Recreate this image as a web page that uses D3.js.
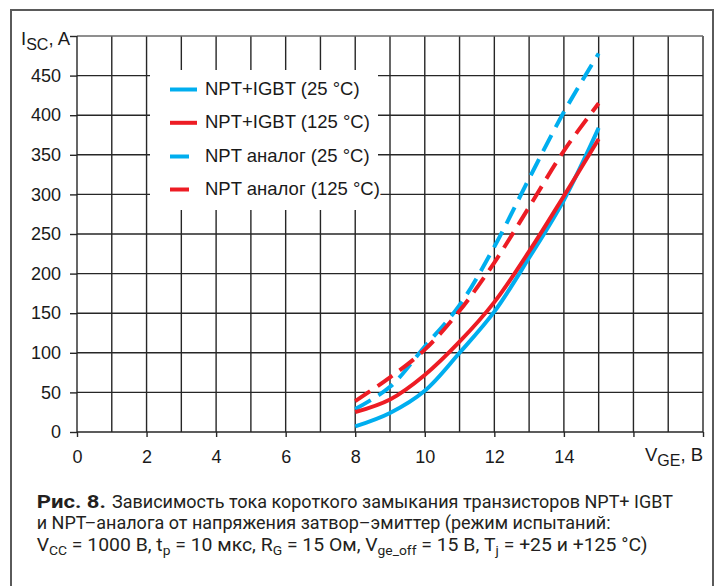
<!DOCTYPE html>
<html>
<head>
<meta charset="utf-8">
<script src="https://cdn.jsdelivr.net/npm/d3@7"></script>
<style>
  html, body { margin: 0; padding: 0; background: #fff; }
  svg { display: block; }
</style>
</head>
<body>
<svg id="chart" width="716" height="586"></svg>
<script>
// ---- data ----
const vge = [8, 9, 10, 11, 12, 13, 14, 15];
const nptIgbt25 = [7, 24, 52, 100, 152, 220, 293, 384];
const nptIgbt125 = [25, 41, 72, 114, 164, 228, 298, 370];
const nptAnalog25 = [29, 57, 108, 160, 234, 320, 404, 478];
const nptAnalog125 = [39, 69, 104, 153, 214, 284, 355, 415];
const seriesNames = ["NPT+IGBT (25 °C)", "NPT+IGBT (125 °C)", "NPT аналог (25 °C)", "NPT аналог (125 °C)"];
const xTickValues = [0, 2, 4, 6, 8, 10, 12, 14, 16, 18];
const xTickLabels = ["0", "2", "4", "6", "8", "10", "12", "14", "", ""];
const yTickValues = [0, 50, 100, 150, 200, 250, 300, 350, 400, 450, 500];
const yTickLabels = ["0", "50", "100", "150", "200", "250", "300", "350", "400", "450", ""];
const captionBold = "Рис. 8.";
const captionLine1 = "Зависимость тока короткого замыкания транзисторов NPT+ IGBT";
const captionLine2 = "и NPT–аналога от напряжения затвор–эмиттер (режим испытаний:";

// ---- styles ----
const BLUE = "#00aeef", RED = "#ed1c24";
const GRID = "#262626";
const FONT = "'Liberation Sans', Arial, Helvetica, sans-serif";
const CAPFONT = "Roboto, 'Noto Sans', sans-serif";

const svg = d3.select("#chart");
const x = d3.scaleLinear().domain([0, 18]).range([77, 703]);
const y = d3.scaleLinear().domain([0, 500]).range([432, 36]);

// outer frame
svg.append("rect").attr("x", 11).attr("y", 10).attr("width", 702).attr("height", 600)
  .attr("fill", "none").attr("stroke", "#5a5a5a").attr("stroke-width", 2);

// grid
const grid = svg.append("g").attr("stroke", GRID).attr("stroke-width", 1.4).attr("fill", "none");
d3.range(1, 19).forEach(v => {
  grid.append("line").attr("x1", x(v)).attr("x2", x(v)).attr("y1", y(500)).attr("y2", y(0));
});
d3.range(50, 501, 50).forEach(v => {
  grid.append("line").attr("x1", x(0)).attr("x2", x(18)).attr("y1", y(v)).attr("y2", y(v))
    .attr("stroke", v === 500 ? "#6a6a6a" : GRID);
});

// legend background (hides grid)
svg.append("rect").attr("x", 150).attr("y", 70).attr("width", 228).attr("height", 140).attr("fill", "#fff");

// axes
const yAxis = d3.axisLeft(y).tickValues(yTickValues).tickSize(7).tickPadding(9)
  .tickFormat((d, i) => yTickLabels[i]);
const gy = svg.append("g").attr("transform", `translate(${x(0)},0)`).call(yAxis);
const xAxis = d3.axisBottom(x).tickValues(xTickValues).tickSize(5).tickPadding(13)
  .tickFormat((d, i) => xTickLabels[i]);
const gx = svg.append("g").attr("transform", `translate(0,${y(0)})`).call(xAxis);
[gx, gy].forEach(g => {
  g.select(".domain").attr("stroke", GRID).attr("stroke-width", 1.4);
  g.selectAll(".tick line").attr("stroke", GRID).attr("stroke-width", 1.4);
  g.selectAll(".tick text").attr("font-family", FONT).attr("font-size", 18).attr("fill", "#1a1a1a");
});
gx.select(".domain").attr("d", `M${x(0)},0H${x(18)}`);
gy.select(".domain").attr("d", `M0,${y(500)}V${y(0)}`);

// axis titles
const yt = svg.append("text").attr("x", 21).attr("y", 45).attr("font-family", FONT).attr("font-size", 18.5).attr("fill", "#1a1a1a");
yt.append("tspan").text("I");
yt.append("tspan").attr("font-size", 16).attr("dy", 5).text("SC");
yt.append("tspan").attr("dy", -5).text(", A");

const xt = svg.append("text").attr("x", 703).attr("y", 461).attr("text-anchor", "end")
  .attr("font-family", FONT).attr("font-size", 18.5).attr("fill", "#1a1a1a");
xt.append("tspan").text("V");
xt.append("tspan").attr("font-size", 16).attr("dy", 5).text("GE");
xt.append("tspan").attr("dy", -5).text(", B");

// curves
const series = [
  { vals: nptIgbt25, color: BLUE, dash: null },
  { vals: nptAnalog25, color: BLUE, dash: "18,9" },
  { vals: nptIgbt125, color: RED, dash: null },
  { vals: nptAnalog125, color: RED, dash: "18,9" },
];
const line = d3.line().x(d => x(d[0])).y(d => y(d[1])).curve(d3.curveCatmullRom.alpha(0.5));
series.forEach(s => {
  svg.append("path").datum(vge.map((v, i) => [v, s.vals[i]]))
    .attr("d", line).attr("fill", "none").attr("stroke", s.color).attr("stroke-width", 4)
    .attr("stroke-dasharray", s.dash);
});

// legend
const legendItems = [
  { name: seriesNames[0], color: BLUE, len: 27 },
  { name: seriesNames[1], color: RED, len: 27 },
  { name: seriesNames[2], color: BLUE, len: 19 },
  { name: seriesNames[3], color: RED, len: 19 },
];
const legendBase = [95, 128.3, 162, 195];
legendItems.forEach((it, i) => {
  const yy = legendBase[i];
  svg.append("line").attr("x1", 170).attr("x2", 170 + it.len).attr("y1", yy - 5.5).attr("y2", yy - 5.5)
    .attr("stroke", it.color).attr("stroke-width", 4);
  svg.append("text").attr("x", 205).attr("y", yy).text(it.name)
    .attr("font-family", FONT).attr("font-size", 18.5).attr("fill", "#1a1a1a")
    .attr("stroke", "#fff").attr("stroke-width", 4).attr("paint-order", "stroke");
});

// caption
const CAPSIZE = 17.5;
function capGroup() {
  return svg.append("g").attr("font-family", CAPFONT).attr("font-size", CAPSIZE).attr("fill", "#231f20");
}
// bold label
const gb = capGroup();
const tb = gb.append("text").attr("x", 0).attr("y", 508).attr("font-weight", "bold").text(captionBold);
const wb = tb.node().getComputedTextLength();
gb.attr("transform", `translate(36.7,0) scale(${(106 - 36.7) / wb},1)`);
// regular text
const g1 = capGroup();
const t1 = g1.append("text").attr("x", 0).attr("y", 508).text(captionLine1);
const w1 = t1.node().getComputedTextLength();
const sx = (673 - 112) / w1;
g1.attr("transform", `translate(112,0) scale(${sx},1)`);
const g2 = capGroup();
g2.append("text").attr("x", 0).attr("y", 529.5).text(captionLine2);
g2.attr("transform", `translate(36.7,0) scale(${sx},1)`);
const g3 = capGroup();
const l3 = g3.append("text").attr("x", 0).attr("y", 551);
const parts3 = [["V", 0], ["CC", 1], [" = 1000 В, t", 0], ["p", 1], [" = 10 мкс, R", 0], ["G", 1],
  [" = 15 Ом, V", 0], ["ge_off", 1], [" = 15 В, T", 0], ["j", 1], [" = +25 и +125 °C)", 0]];
let prevSub = 0;
parts3.forEach(([t, sub]) => {
  const ts = l3.append("tspan").text(t);
  if (sub) ts.attr("font-size", 12.5);
  const dy = (sub ? 4 : 0) - (prevSub ? 4 : 0);
  if (dy) ts.attr("dy", dy);
  prevSub = sub;
});
const w3 = l3.node().getComputedTextLength();
g3.attr("transform", `translate(36.7,0) scale(${(648 - 36.7) / w3},1)`);
</script>
</body>
</html>
